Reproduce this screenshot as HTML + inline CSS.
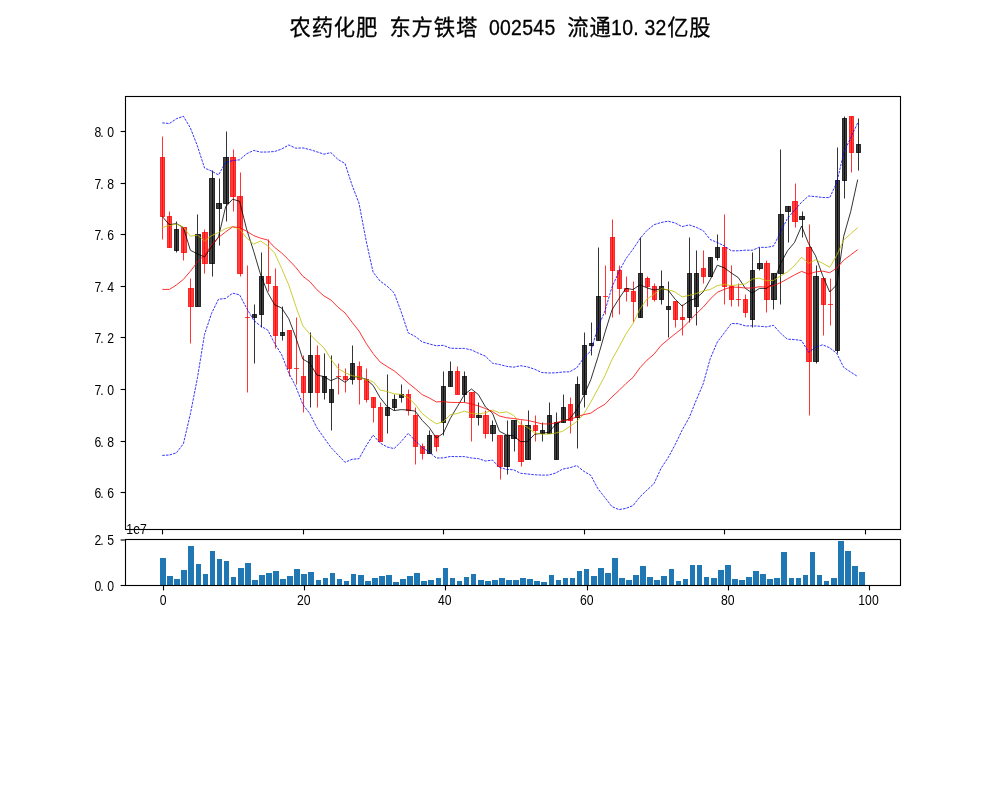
<!DOCTYPE html>
<html lang="zh"><head><meta charset="utf-8"><title>农药化肥 东方铁塔 002545</title>
<style>html,body{margin:0;padding:0;background:#fff}body{width:1000px;height:800px;overflow:hidden}svg{display:block}text{font-family:"Liberation Sans","Noto Sans CJK SC",sans-serif;fill:#000}</style></head><body>
<svg width="1000" height="800" viewBox="0 0 1000 800">
<rect width="1000" height="800" fill="#fff"/>
<g font-size="22.22" stroke="#000" stroke-width="0.3">
<text font-size="21.3" x="289.41 311.63 333.85 356.07" y="35.3">农药化肥</text>
<text font-size="21.3" x="389.40 411.62 433.84 456.06" y="35.3">东方铁塔</text>
<text transform="translate(488.89,35.0) scale(0.90,1)" x="0.00 12.34 24.69 37.03 49.38 61.72" y="0" font-size="21.6">002545</text>
<text font-size="21.3" x="567.16 589.38" y="35.3">流通</text>
<text transform="translate(611.10,35.0) scale(0.90,1)" x="0.00 12.34 24.69 37.03 49.38" y="0" font-size="21.6">10.32</text>
<text font-size="21.3" x="667.15 689.37" y="35.3">亿股</text>
</g>
<g id="main">
<rect x="160.5" y="157.5" width="4" height="59" fill="rgba(255,0,0,0.75)" stroke="rgba(255,0,0,0.75)" stroke-width="1"/>
<rect x="167.5" y="216.5" width="4" height="31" fill="rgba(255,0,0,0.75)" stroke="rgba(255,0,0,0.75)" stroke-width="1"/>
<rect x="174.5" y="229.5" width="4" height="21" fill="rgba(0,0,0,0.75)" stroke="rgba(0,0,0,0.75)" stroke-width="1"/>
<rect x="181.5" y="227.5" width="5" height="25" fill="rgba(255,0,0,0.75)" stroke="rgba(255,0,0,0.75)" stroke-width="1"/>
<rect x="188.5" y="288.5" width="5" height="18" fill="rgba(255,0,0,0.75)" stroke="rgba(255,0,0,0.75)" stroke-width="1"/>
<rect x="195.5" y="234.5" width="5" height="72" fill="rgba(0,0,0,0.75)" stroke="rgba(0,0,0,0.75)" stroke-width="1"/>
<rect x="202.5" y="232.5" width="5" height="31" fill="rgba(255,0,0,0.75)" stroke="rgba(255,0,0,0.75)" stroke-width="1"/>
<rect x="209.5" y="178.5" width="5" height="85" fill="rgba(0,0,0,0.75)" stroke="rgba(0,0,0,0.75)" stroke-width="1"/>
<rect x="216.5" y="203.5" width="5" height="5" fill="rgba(0,0,0,0.75)" stroke="rgba(0,0,0,0.75)" stroke-width="1"/>
<rect x="223.5" y="157.5" width="5" height="46" fill="rgba(0,0,0,0.75)" stroke="rgba(0,0,0,0.75)" stroke-width="1"/>
<rect x="230.5" y="157.5" width="5" height="39" fill="rgba(255,0,0,0.75)" stroke="rgba(255,0,0,0.75)" stroke-width="1"/>
<rect x="237.5" y="196.5" width="5" height="77" fill="rgba(255,0,0,0.75)" stroke="rgba(255,0,0,0.75)" stroke-width="1"/>
<line x1="245.5" x2="249.5" y1="317.5" y2="317.5" stroke="rgba(255,0,0,0.75)" stroke-width="1" stroke-linecap="square"/>
<rect x="252.5" y="314.5" width="4" height="3" fill="rgba(0,0,0,0.75)" stroke="rgba(0,0,0,0.75)" stroke-width="1"/>
<rect x="259.5" y="276.5" width="4" height="38" fill="rgba(0,0,0,0.75)" stroke="rgba(0,0,0,0.75)" stroke-width="1"/>
<rect x="266.5" y="276.5" width="4" height="7" fill="rgba(255,0,0,0.75)" stroke="rgba(255,0,0,0.75)" stroke-width="1"/>
<rect x="273.5" y="286.5" width="4" height="49" fill="rgba(255,0,0,0.75)" stroke="rgba(255,0,0,0.75)" stroke-width="1"/>
<rect x="280.5" y="332.5" width="4" height="3" fill="rgba(0,0,0,0.75)" stroke="rgba(0,0,0,0.75)" stroke-width="1"/>
<rect x="287.5" y="330.5" width="4" height="38" fill="rgba(255,0,0,0.75)" stroke="rgba(255,0,0,0.75)" stroke-width="1"/>
<line x1="294.5" x2="298.5" y1="368.5" y2="368.5" stroke="rgba(255,0,0,0.75)" stroke-width="1" stroke-linecap="square"/>
<rect x="301.5" y="376.5" width="4" height="16" fill="rgba(255,0,0,0.75)" stroke="rgba(255,0,0,0.75)" stroke-width="1"/>
<rect x="308.5" y="355.5" width="4" height="37" fill="rgba(0,0,0,0.75)" stroke="rgba(0,0,0,0.75)" stroke-width="1"/>
<rect x="315.5" y="355.5" width="4" height="37" fill="rgba(255,0,0,0.75)" stroke="rgba(255,0,0,0.75)" stroke-width="1"/>
<rect x="322.5" y="376.5" width="4" height="16" fill="rgba(0,0,0,0.75)" stroke="rgba(0,0,0,0.75)" stroke-width="1"/>
<rect x="329.5" y="389.5" width="4" height="13" fill="rgba(0,0,0,0.75)" stroke="rgba(0,0,0,0.75)" stroke-width="1"/>
<line x1="336.5" x2="340.5" y1="376.5" y2="376.5" stroke="rgba(255,0,0,0.75)" stroke-width="1" stroke-linecap="square"/>
<rect x="343.5" y="376.5" width="4" height="3" fill="rgba(255,0,0,0.75)" stroke="rgba(255,0,0,0.75)" stroke-width="1"/>
<rect x="350.5" y="363.5" width="4" height="16" fill="rgba(0,0,0,0.75)" stroke="rgba(0,0,0,0.75)" stroke-width="1"/>
<rect x="357.5" y="366.5" width="4" height="13" fill="rgba(255,0,0,0.75)" stroke="rgba(255,0,0,0.75)" stroke-width="1"/>
<rect x="364.5" y="379.5" width="4" height="20" fill="rgba(255,0,0,0.75)" stroke="rgba(255,0,0,0.75)" stroke-width="1"/>
<rect x="371.5" y="397.5" width="4" height="10" fill="rgba(255,0,0,0.75)" stroke="rgba(255,0,0,0.75)" stroke-width="1"/>
<rect x="378.5" y="407.5" width="4" height="34" fill="rgba(255,0,0,0.75)" stroke="rgba(255,0,0,0.75)" stroke-width="1"/>
<rect x="385.5" y="407.5" width="4" height="8" fill="rgba(0,0,0,0.75)" stroke="rgba(0,0,0,0.75)" stroke-width="1"/>
<rect x="392.5" y="399.5" width="4" height="8" fill="rgba(0,0,0,0.75)" stroke="rgba(0,0,0,0.75)" stroke-width="1"/>
<rect x="399.5" y="394.5" width="4" height="3" fill="rgba(0,0,0,0.75)" stroke="rgba(0,0,0,0.75)" stroke-width="1"/>
<rect x="406.5" y="394.5" width="4" height="16" fill="rgba(255,0,0,0.75)" stroke="rgba(255,0,0,0.75)" stroke-width="1"/>
<rect x="413.5" y="415.5" width="4" height="31" fill="rgba(255,0,0,0.75)" stroke="rgba(255,0,0,0.75)" stroke-width="1"/>
<rect x="420.5" y="446.5" width="4" height="7" fill="rgba(255,0,0,0.75)" stroke="rgba(255,0,0,0.75)" stroke-width="1"/>
<rect x="427.5" y="435.5" width="4" height="18" fill="rgba(0,0,0,0.75)" stroke="rgba(0,0,0,0.75)" stroke-width="1"/>
<rect x="434.5" y="435.5" width="4" height="11" fill="rgba(255,0,0,0.75)" stroke="rgba(255,0,0,0.75)" stroke-width="1"/>
<rect x="441.5" y="386.5" width="4" height="36" fill="rgba(0,0,0,0.75)" stroke="rgba(0,0,0,0.75)" stroke-width="1"/>
<rect x="448.5" y="371.5" width="4" height="15" fill="rgba(0,0,0,0.75)" stroke="rgba(0,0,0,0.75)" stroke-width="1"/>
<rect x="455.5" y="371.5" width="4" height="23" fill="rgba(255,0,0,0.75)" stroke="rgba(255,0,0,0.75)" stroke-width="1"/>
<rect x="462.5" y="376.5" width="4" height="18" fill="rgba(0,0,0,0.75)" stroke="rgba(0,0,0,0.75)" stroke-width="1"/>
<rect x="469.5" y="392.5" width="5" height="25" fill="rgba(255,0,0,0.75)" stroke="rgba(255,0,0,0.75)" stroke-width="1"/>
<rect x="476.5" y="415.5" width="5" height="2" fill="rgba(0,0,0,0.75)" stroke="rgba(0,0,0,0.75)" stroke-width="1"/>
<rect x="483.5" y="415.5" width="5" height="18" fill="rgba(255,0,0,0.75)" stroke="rgba(255,0,0,0.75)" stroke-width="1"/>
<rect x="490.5" y="425.5" width="5" height="8" fill="rgba(0,0,0,0.75)" stroke="rgba(0,0,0,0.75)" stroke-width="1"/>
<rect x="497.5" y="435.5" width="5" height="31" fill="rgba(255,0,0,0.75)" stroke="rgba(255,0,0,0.75)" stroke-width="1"/>
<rect x="504.5" y="435.5" width="5" height="31" fill="rgba(0,0,0,0.75)" stroke="rgba(0,0,0,0.75)" stroke-width="1"/>
<rect x="511.5" y="420.5" width="5" height="18" fill="rgba(0,0,0,0.75)" stroke="rgba(0,0,0,0.75)" stroke-width="1"/>
<rect x="518.5" y="425.5" width="5" height="36" fill="rgba(255,0,0,0.75)" stroke="rgba(255,0,0,0.75)" stroke-width="1"/>
<rect x="525.5" y="425.5" width="5" height="34" fill="rgba(0,0,0,0.75)" stroke="rgba(0,0,0,0.75)" stroke-width="1"/>
<rect x="533.5" y="425.5" width="4" height="5" fill="rgba(255,0,0,0.75)" stroke="rgba(255,0,0,0.75)" stroke-width="1"/>
<rect x="540.5" y="430.5" width="4" height="3" fill="rgba(0,0,0,0.75)" stroke="rgba(0,0,0,0.75)" stroke-width="1"/>
<rect x="547.5" y="415.5" width="4" height="18" fill="rgba(0,0,0,0.75)" stroke="rgba(0,0,0,0.75)" stroke-width="1"/>
<rect x="554.5" y="422.5" width="4" height="37" fill="rgba(0,0,0,0.75)" stroke="rgba(0,0,0,0.75)" stroke-width="1"/>
<rect x="561.5" y="407.5" width="4" height="15" fill="rgba(0,0,0,0.75)" stroke="rgba(0,0,0,0.75)" stroke-width="1"/>
<rect x="568.5" y="404.5" width="4" height="16" fill="rgba(255,0,0,0.75)" stroke="rgba(255,0,0,0.75)" stroke-width="1"/>
<rect x="575.5" y="384.5" width="4" height="33" fill="rgba(0,0,0,0.75)" stroke="rgba(0,0,0,0.75)" stroke-width="1"/>
<rect x="582.5" y="345.5" width="4" height="49" fill="rgba(0,0,0,0.75)" stroke="rgba(0,0,0,0.75)" stroke-width="1"/>
<rect x="589.5" y="343.5" width="4" height="2" fill="rgba(0,0,0,0.75)" stroke="rgba(0,0,0,0.75)" stroke-width="1"/>
<rect x="596.5" y="296.5" width="4" height="44" fill="rgba(0,0,0,0.75)" stroke="rgba(0,0,0,0.75)" stroke-width="1"/>
<line x1="603.5" x2="607.5" y1="296.5" y2="296.5" stroke="rgba(255,0,0,0.75)" stroke-width="1" stroke-linecap="square"/>
<rect x="610.5" y="237.5" width="4" height="33" fill="rgba(255,0,0,0.75)" stroke="rgba(255,0,0,0.75)" stroke-width="1"/>
<rect x="617.5" y="270.5" width="4" height="18" fill="rgba(255,0,0,0.75)" stroke="rgba(255,0,0,0.75)" stroke-width="1"/>
<rect x="624.5" y="288.5" width="4" height="3" fill="rgba(255,0,0,0.75)" stroke="rgba(255,0,0,0.75)" stroke-width="1"/>
<rect x="631.5" y="291.5" width="4" height="10" fill="rgba(255,0,0,0.75)" stroke="rgba(255,0,0,0.75)" stroke-width="1"/>
<rect x="638.5" y="273.5" width="4" height="44" fill="rgba(0,0,0,0.75)" stroke="rgba(0,0,0,0.75)" stroke-width="1"/>
<rect x="645.5" y="278.5" width="4" height="8" fill="rgba(255,0,0,0.75)" stroke="rgba(255,0,0,0.75)" stroke-width="1"/>
<rect x="652.5" y="286.5" width="4" height="13" fill="rgba(255,0,0,0.75)" stroke="rgba(255,0,0,0.75)" stroke-width="1"/>
<rect x="659.5" y="286.5" width="4" height="13" fill="rgba(0,0,0,0.75)" stroke="rgba(0,0,0,0.75)" stroke-width="1"/>
<rect x="666.5" y="306.5" width="4" height="3" fill="rgba(0,0,0,0.75)" stroke="rgba(0,0,0,0.75)" stroke-width="1"/>
<rect x="673.5" y="301.5" width="4" height="18" fill="rgba(255,0,0,0.75)" stroke="rgba(255,0,0,0.75)" stroke-width="1"/>
<rect x="680.5" y="317.5" width="4" height="2" fill="rgba(255,0,0,0.75)" stroke="rgba(255,0,0,0.75)" stroke-width="1"/>
<rect x="687.5" y="273.5" width="4" height="44" fill="rgba(0,0,0,0.75)" stroke="rgba(0,0,0,0.75)" stroke-width="1"/>
<rect x="694.5" y="273.5" width="4" height="33" fill="rgba(0,0,0,0.75)" stroke="rgba(0,0,0,0.75)" stroke-width="1"/>
<rect x="701.5" y="268.5" width="4" height="8" fill="rgba(255,0,0,0.75)" stroke="rgba(255,0,0,0.75)" stroke-width="1"/>
<rect x="708.5" y="257.5" width="4" height="19" fill="rgba(0,0,0,0.75)" stroke="rgba(0,0,0,0.75)" stroke-width="1"/>
<rect x="715.5" y="247.5" width="4" height="10" fill="rgba(0,0,0,0.75)" stroke="rgba(0,0,0,0.75)" stroke-width="1"/>
<rect x="722.5" y="247.5" width="4" height="39" fill="rgba(255,0,0,0.75)" stroke="rgba(255,0,0,0.75)" stroke-width="1"/>
<rect x="729.5" y="286.5" width="4" height="13" fill="rgba(255,0,0,0.75)" stroke="rgba(255,0,0,0.75)" stroke-width="1"/>
<line x1="736.5" x2="740.5" y1="299.5" y2="299.5" stroke="rgba(255,0,0,0.75)" stroke-width="1" stroke-linecap="square"/>
<rect x="743.5" y="299.5" width="4" height="13" fill="rgba(255,0,0,0.75)" stroke="rgba(255,0,0,0.75)" stroke-width="1"/>
<rect x="750.5" y="270.5" width="4" height="49" fill="rgba(0,0,0,0.75)" stroke="rgba(0,0,0,0.75)" stroke-width="1"/>
<rect x="757.5" y="263.5" width="5" height="5" fill="rgba(0,0,0,0.75)" stroke="rgba(0,0,0,0.75)" stroke-width="1"/>
<rect x="764.5" y="263.5" width="5" height="36" fill="rgba(255,0,0,0.75)" stroke="rgba(255,0,0,0.75)" stroke-width="1"/>
<rect x="771.5" y="273.5" width="5" height="26" fill="rgba(0,0,0,0.75)" stroke="rgba(0,0,0,0.75)" stroke-width="1"/>
<rect x="778.5" y="214.5" width="5" height="59" fill="rgba(0,0,0,0.75)" stroke="rgba(0,0,0,0.75)" stroke-width="1"/>
<rect x="785.5" y="206.5" width="5" height="5" fill="rgba(0,0,0,0.75)" stroke="rgba(0,0,0,0.75)" stroke-width="1"/>
<rect x="792.5" y="201.5" width="5" height="20" fill="rgba(255,0,0,0.75)" stroke="rgba(255,0,0,0.75)" stroke-width="1"/>
<rect x="799.5" y="216.5" width="5" height="3" fill="rgba(0,0,0,0.75)" stroke="rgba(0,0,0,0.75)" stroke-width="1"/>
<rect x="806.5" y="247.5" width="5" height="114" fill="rgba(255,0,0,0.75)" stroke="rgba(255,0,0,0.75)" stroke-width="1"/>
<rect x="813.5" y="276.5" width="5" height="85" fill="rgba(0,0,0,0.75)" stroke="rgba(0,0,0,0.75)" stroke-width="1"/>
<rect x="821.5" y="278.5" width="4" height="26" fill="rgba(255,0,0,0.75)" stroke="rgba(255,0,0,0.75)" stroke-width="1"/>
<line x1="828.5" x2="832.5" y1="304.5" y2="304.5" stroke="rgba(255,0,0,0.75)" stroke-width="1" stroke-linecap="square"/>
<rect x="835.5" y="180.5" width="4" height="170" fill="rgba(0,0,0,0.75)" stroke="rgba(0,0,0,0.75)" stroke-width="1"/>
<rect x="842.5" y="118.5" width="4" height="62" fill="rgba(0,0,0,0.75)" stroke="rgba(0,0,0,0.75)" stroke-width="1"/>
<rect x="849.5" y="116.5" width="4" height="36" fill="rgba(255,0,0,0.75)" stroke="rgba(255,0,0,0.75)" stroke-width="1"/>
<rect x="856.5" y="144.5" width="4" height="8" fill="rgba(0,0,0,0.75)" stroke="rgba(0,0,0,0.75)" stroke-width="1"/>
<line x1="162.5" x2="162.5" y1="136.5" y2="239.5" stroke="rgb(255,0,0)" stroke-width="0.80"/>
<line x1="169.5" x2="169.5" y1="211.5" y2="247.5" stroke="rgb(255,0,0)" stroke-width="0.80"/>
<line x1="176.5" x2="176.5" y1="221.5" y2="252.5" stroke="rgb(0,0,0)" stroke-width="0.80"/>
<line x1="183.5" x2="183.5" y1="227.5" y2="260.5" stroke="rgb(255,0,0)" stroke-width="0.80"/>
<line x1="190.5" x2="190.5" y1="278.5" y2="343.5" stroke="rgb(255,0,0)" stroke-width="0.80"/>
<line x1="197.5" x2="197.5" y1="214.5" y2="306.5" stroke="rgb(0,0,0)" stroke-width="0.80"/>
<line x1="204.5" x2="204.5" y1="229.5" y2="273.5" stroke="rgb(255,0,0)" stroke-width="0.80"/>
<line x1="212.5" x2="212.5" y1="170.5" y2="276.5" stroke="rgb(0,0,0)" stroke-width="0.80"/>
<line x1="219.5" x2="219.5" y1="178.5" y2="245.5" stroke="rgb(0,0,0)" stroke-width="0.80"/>
<line x1="226.5" x2="226.5" y1="131.5" y2="221.5" stroke="rgb(0,0,0)" stroke-width="0.80"/>
<line x1="233.5" x2="233.5" y1="149.5" y2="211.5" stroke="rgb(255,0,0)" stroke-width="0.80"/>
<line x1="240.5" x2="240.5" y1="172.5" y2="276.5" stroke="rgb(255,0,0)" stroke-width="0.80"/>
<line x1="247.5" x2="247.5" y1="265.5" y2="392.5" stroke="rgb(255,0,0)" stroke-width="0.80"/>
<line x1="254.5" x2="254.5" y1="304.5" y2="363.5" stroke="rgb(0,0,0)" stroke-width="0.80"/>
<line x1="261.5" x2="261.5" y1="252.5" y2="327.5" stroke="rgb(0,0,0)" stroke-width="0.80"/>
<line x1="268.5" x2="268.5" y1="239.5" y2="291.5" stroke="rgb(255,0,0)" stroke-width="0.80"/>
<line x1="275.5" x2="275.5" y1="268.5" y2="348.5" stroke="rgb(255,0,0)" stroke-width="0.80"/>
<line x1="282.5" x2="282.5" y1="306.5" y2="340.5" stroke="rgb(0,0,0)" stroke-width="0.80"/>
<line x1="289.5" x2="289.5" y1="330.5" y2="376.5" stroke="rgb(255,0,0)" stroke-width="0.80"/>
<line x1="296.5" x2="296.5" y1="317.5" y2="384.5" stroke="rgb(255,0,0)" stroke-width="0.80"/>
<line x1="303.5" x2="303.5" y1="355.5" y2="412.5" stroke="rgb(255,0,0)" stroke-width="0.80"/>
<line x1="310.5" x2="310.5" y1="332.5" y2="407.5" stroke="rgb(0,0,0)" stroke-width="0.80"/>
<line x1="317.5" x2="317.5" y1="345.5" y2="407.5" stroke="rgb(255,0,0)" stroke-width="0.80"/>
<line x1="324.5" x2="324.5" y1="353.5" y2="399.5" stroke="rgb(0,0,0)" stroke-width="0.80"/>
<line x1="331.5" x2="331.5" y1="355.5" y2="430.5" stroke="rgb(0,0,0)" stroke-width="0.80"/>
<line x1="338.5" x2="338.5" y1="363.5" y2="394.5" stroke="rgb(255,0,0)" stroke-width="0.80"/>
<line x1="345.5" x2="345.5" y1="368.5" y2="392.5" stroke="rgb(255,0,0)" stroke-width="0.80"/>
<line x1="352.5" x2="352.5" y1="345.5" y2="384.5" stroke="rgb(0,0,0)" stroke-width="0.80"/>
<line x1="359.5" x2="359.5" y1="361.5" y2="404.5" stroke="rgb(255,0,0)" stroke-width="0.80"/>
<line x1="366.5" x2="366.5" y1="368.5" y2="402.5" stroke="rgb(255,0,0)" stroke-width="0.80"/>
<line x1="373.5" x2="373.5" y1="397.5" y2="422.5" stroke="rgb(255,0,0)" stroke-width="0.80"/>
<line x1="380.5" x2="380.5" y1="402.5" y2="441.5" stroke="rgb(255,0,0)" stroke-width="0.80"/>
<line x1="387.5" x2="387.5" y1="374.5" y2="433.5" stroke="rgb(0,0,0)" stroke-width="0.80"/>
<line x1="394.5" x2="394.5" y1="394.5" y2="410.5" stroke="rgb(0,0,0)" stroke-width="0.80"/>
<line x1="401.5" x2="401.5" y1="384.5" y2="402.5" stroke="rgb(0,0,0)" stroke-width="0.80"/>
<line x1="408.5" x2="408.5" y1="389.5" y2="415.5" stroke="rgb(255,0,0)" stroke-width="0.80"/>
<line x1="415.5" x2="415.5" y1="407.5" y2="464.5" stroke="rgb(255,0,0)" stroke-width="0.80"/>
<line x1="422.5" x2="422.5" y1="443.5" y2="459.5" stroke="rgb(255,0,0)" stroke-width="0.80"/>
<line x1="429.5" x2="429.5" y1="430.5" y2="453.5" stroke="rgb(0,0,0)" stroke-width="0.80"/>
<line x1="436.5" x2="436.5" y1="435.5" y2="451.5" stroke="rgb(255,0,0)" stroke-width="0.80"/>
<line x1="443.5" x2="443.5" y1="371.5" y2="435.5" stroke="rgb(0,0,0)" stroke-width="0.80"/>
<line x1="450.5" x2="450.5" y1="361.5" y2="386.5" stroke="rgb(0,0,0)" stroke-width="0.80"/>
<line x1="457.5" x2="457.5" y1="366.5" y2="394.5" stroke="rgb(255,0,0)" stroke-width="0.80"/>
<line x1="464.5" x2="464.5" y1="371.5" y2="402.5" stroke="rgb(0,0,0)" stroke-width="0.80"/>
<line x1="471.5" x2="471.5" y1="392.5" y2="441.5" stroke="rgb(255,0,0)" stroke-width="0.80"/>
<line x1="478.5" x2="478.5" y1="402.5" y2="425.5" stroke="rgb(0,0,0)" stroke-width="0.80"/>
<line x1="485.5" x2="485.5" y1="410.5" y2="438.5" stroke="rgb(255,0,0)" stroke-width="0.80"/>
<line x1="492.5" x2="492.5" y1="420.5" y2="441.5" stroke="rgb(0,0,0)" stroke-width="0.80"/>
<line x1="500.5" x2="500.5" y1="435.5" y2="479.5" stroke="rgb(255,0,0)" stroke-width="0.80"/>
<line x1="507.5" x2="507.5" y1="420.5" y2="474.5" stroke="rgb(0,0,0)" stroke-width="0.80"/>
<line x1="514.5" x2="514.5" y1="420.5" y2="451.5" stroke="rgb(0,0,0)" stroke-width="0.80"/>
<line x1="521.5" x2="521.5" y1="420.5" y2="466.5" stroke="rgb(255,0,0)" stroke-width="0.80"/>
<line x1="528.5" x2="528.5" y1="410.5" y2="459.5" stroke="rgb(0,0,0)" stroke-width="0.80"/>
<line x1="535.5" x2="535.5" y1="415.5" y2="441.5" stroke="rgb(255,0,0)" stroke-width="0.80"/>
<line x1="542.5" x2="542.5" y1="422.5" y2="441.5" stroke="rgb(0,0,0)" stroke-width="0.80"/>
<line x1="549.5" x2="549.5" y1="402.5" y2="433.5" stroke="rgb(0,0,0)" stroke-width="0.80"/>
<line x1="556.5" x2="556.5" y1="412.5" y2="459.5" stroke="rgb(0,0,0)" stroke-width="0.80"/>
<line x1="563.5" x2="563.5" y1="394.5" y2="422.5" stroke="rgb(0,0,0)" stroke-width="0.80"/>
<line x1="570.5" x2="570.5" y1="397.5" y2="433.5" stroke="rgb(255,0,0)" stroke-width="0.80"/>
<line x1="577.5" x2="577.5" y1="376.5" y2="448.5" stroke="rgb(0,0,0)" stroke-width="0.80"/>
<line x1="584.5" x2="584.5" y1="332.5" y2="407.5" stroke="rgb(0,0,0)" stroke-width="0.80"/>
<line x1="591.5" x2="591.5" y1="322.5" y2="355.5" stroke="rgb(0,0,0)" stroke-width="0.80"/>
<line x1="598.5" x2="598.5" y1="247.5" y2="340.5" stroke="rgb(0,0,0)" stroke-width="0.80"/>
<line x1="605.5" x2="605.5" y1="265.5" y2="314.5" stroke="rgb(255,0,0)" stroke-width="0.80"/>
<line x1="612.5" x2="612.5" y1="219.5" y2="317.5" stroke="rgb(255,0,0)" stroke-width="0.80"/>
<line x1="619.5" x2="619.5" y1="265.5" y2="314.5" stroke="rgb(255,0,0)" stroke-width="0.80"/>
<line x1="626.5" x2="626.5" y1="276.5" y2="301.5" stroke="rgb(255,0,0)" stroke-width="0.80"/>
<line x1="633.5" x2="633.5" y1="281.5" y2="322.5" stroke="rgb(255,0,0)" stroke-width="0.80"/>
<line x1="640.5" x2="640.5" y1="237.5" y2="317.5" stroke="rgb(0,0,0)" stroke-width="0.80"/>
<line x1="647.5" x2="647.5" y1="276.5" y2="306.5" stroke="rgb(255,0,0)" stroke-width="0.80"/>
<line x1="654.5" x2="654.5" y1="283.5" y2="301.5" stroke="rgb(255,0,0)" stroke-width="0.80"/>
<line x1="661.5" x2="661.5" y1="270.5" y2="304.5" stroke="rgb(0,0,0)" stroke-width="0.80"/>
<line x1="668.5" x2="668.5" y1="281.5" y2="337.5" stroke="rgb(0,0,0)" stroke-width="0.80"/>
<line x1="675.5" x2="675.5" y1="301.5" y2="327.5" stroke="rgb(255,0,0)" stroke-width="0.80"/>
<line x1="682.5" x2="682.5" y1="304.5" y2="335.5" stroke="rgb(255,0,0)" stroke-width="0.80"/>
<line x1="689.5" x2="689.5" y1="237.5" y2="322.5" stroke="rgb(0,0,0)" stroke-width="0.80"/>
<line x1="696.5" x2="696.5" y1="250.5" y2="325.5" stroke="rgb(0,0,0)" stroke-width="0.80"/>
<line x1="703.5" x2="703.5" y1="250.5" y2="283.5" stroke="rgb(255,0,0)" stroke-width="0.80"/>
<line x1="710.5" x2="710.5" y1="257.5" y2="276.5" stroke="rgb(0,0,0)" stroke-width="0.80"/>
<line x1="717.5" x2="717.5" y1="234.5" y2="260.5" stroke="rgb(0,0,0)" stroke-width="0.80"/>
<line x1="724.5" x2="724.5" y1="214.5" y2="304.5" stroke="rgb(255,0,0)" stroke-width="0.80"/>
<line x1="731.5" x2="731.5" y1="265.5" y2="306.5" stroke="rgb(255,0,0)" stroke-width="0.80"/>
<line x1="738.5" x2="738.5" y1="283.5" y2="306.5" stroke="rgb(255,0,0)" stroke-width="0.80"/>
<line x1="745.5" x2="745.5" y1="294.5" y2="317.5" stroke="rgb(255,0,0)" stroke-width="0.80"/>
<line x1="752.5" x2="752.5" y1="252.5" y2="327.5" stroke="rgb(0,0,0)" stroke-width="0.80"/>
<line x1="759.5" x2="759.5" y1="247.5" y2="270.5" stroke="rgb(0,0,0)" stroke-width="0.80"/>
<line x1="766.5" x2="766.5" y1="260.5" y2="312.5" stroke="rgb(255,0,0)" stroke-width="0.80"/>
<line x1="773.5" x2="773.5" y1="273.5" y2="309.5" stroke="rgb(0,0,0)" stroke-width="0.80"/>
<line x1="780.5" x2="780.5" y1="149.5" y2="304.5" stroke="rgb(0,0,0)" stroke-width="0.80"/>
<line x1="788.5" x2="788.5" y1="206.5" y2="242.5" stroke="rgb(0,0,0)" stroke-width="0.80"/>
<line x1="795.5" x2="795.5" y1="183.5" y2="227.5" stroke="rgb(255,0,0)" stroke-width="0.80"/>
<line x1="802.5" x2="802.5" y1="211.5" y2="237.5" stroke="rgb(0,0,0)" stroke-width="0.80"/>
<line x1="809.5" x2="809.5" y1="224.5" y2="415.5" stroke="rgb(255,0,0)" stroke-width="0.80"/>
<line x1="816.5" x2="816.5" y1="265.5" y2="363.5" stroke="rgb(0,0,0)" stroke-width="0.80"/>
<line x1="823.5" x2="823.5" y1="278.5" y2="335.5" stroke="rgb(255,0,0)" stroke-width="0.80"/>
<line x1="830.5" x2="830.5" y1="278.5" y2="325.5" stroke="rgb(255,0,0)" stroke-width="0.80"/>
<line x1="837.5" x2="837.5" y1="147.5" y2="353.5" stroke="rgb(0,0,0)" stroke-width="0.80"/>
<line x1="844.5" x2="844.5" y1="116.5" y2="198.5" stroke="rgb(0,0,0)" stroke-width="0.80"/>
<line x1="851.5" x2="851.5" y1="116.5" y2="172.5" stroke="rgb(255,0,0)" stroke-width="0.80"/>
<line x1="858.5" x2="858.5" y1="118.5" y2="170.5" stroke="rgb(0,0,0)" stroke-width="0.80"/>
<g fill="none" stroke-width="0.80" stroke-linejoin="round">
<path d="M162.3 216.5 L169.4 224.8 L176.4 223.5 L183.4 227.5 L190.4 250.3 L197.5 253.9 L204.5 257.0 L211.5 246.7 L218.5 236.9 L225.6 206.9 L232.6 199.2 L239.6 201.3 L246.6 229.1 L253.7 251.3 L260.7 275.0 L267.7 292.5 L274.7 304.9 L281.7 308.0 L288.8 318.8 L295.8 337.4 L302.8 359.1 L309.8 363.2 L316.9 375.0 L323.9 376.6 L330.9 380.7 L337.9 377.6 L345.0 382.3 L352.0 376.6 L359.0 377.1 L366.0 379.2 L373.1 385.4 L380.1 397.7 L387.1 406.5 L394.1 410.6 L401.2 409.6 L408.2 410.1 L415.2 411.1 L422.2 420.4 L429.3 427.6 L436.3 438.0 L443.3 433.3 L450.3 418.4 L457.4 406.5 L464.4 394.6 L471.4 389.0 L478.4 394.6 L485.5 407.0 L492.5 413.2 L499.5 431.3 L506.5 434.9 L513.6 435.9 L520.6 441.6 L527.6 441.6 L534.6 434.3 L541.7 433.3 L548.7 432.3 L555.7 424.5 L562.7 420.9 L569.7 418.9 L576.8 409.6 L583.8 395.7 L590.8 379.7 L597.8 357.5 L604.9 332.8 L611.9 310.1 L618.9 298.7 L625.9 288.4 L633.0 289.5 L640.0 284.8 L647.0 287.9 L654.0 290.0 L661.1 288.9 L668.1 290.0 L675.1 299.2 L682.1 306.0 L689.2 300.8 L696.2 298.2 L703.2 292.0 L710.2 279.7 L717.3 265.2 L724.3 267.8 L731.3 273.0 L738.3 277.6 L745.4 288.4 L752.4 293.1 L759.4 288.4 L766.4 288.4 L773.5 283.3 L780.5 263.7 L787.5 250.8 L794.5 242.5 L801.6 226.0 L808.6 243.6 L815.6 255.9 L822.6 275.5 L829.7 292.0 L836.7 284.8 L843.7 236.3 L850.7 211.6 L857.7 179.6" stroke="#000"/>
<path d="M162.3 227.5 L169.4 225.6 L176.4 224.0 L183.4 227.2 L190.4 236.2 L197.5 235.2 L204.5 241.0 L211.5 235.6 L218.5 232.5 L225.6 228.6 L232.6 226.5 L239.6 229.1 L246.6 237.9 L253.7 244.1 L260.7 241.0 L267.7 245.9 L274.7 253.1 L281.7 268.6 L288.8 285.1 L295.8 306.2 L302.8 325.8 L309.8 334.1 L316.9 341.5 L323.9 347.7 L330.9 359.1 L337.9 368.3 L345.0 372.7 L352.0 375.8 L359.0 376.9 L366.0 379.9 L373.1 381.5 L380.1 390.0 L387.1 391.5 L394.1 393.9 L401.2 394.4 L408.2 397.7 L415.2 404.4 L422.2 413.5 L429.3 419.1 L436.3 423.8 L443.3 421.7 L450.3 414.8 L457.4 413.5 L464.4 411.1 L471.4 413.5 L478.4 414.0 L485.5 412.7 L492.5 409.9 L499.5 412.9 L506.5 411.9 L513.6 415.3 L520.6 424.3 L527.6 427.4 L534.6 432.8 L541.7 434.1 L548.7 434.1 L555.7 433.1 L562.7 431.3 L569.7 426.6 L576.8 421.5 L583.8 414.0 L590.8 402.1 L597.8 389.2 L604.9 375.8 L611.9 359.8 L618.9 347.2 L625.9 334.1 L633.0 323.5 L640.0 308.8 L647.0 299.0 L654.0 294.4 L661.1 288.7 L668.1 289.7 L675.1 292.0 L682.1 296.9 L689.2 295.4 L696.2 293.6 L703.2 291.0 L710.2 289.5 L717.3 285.6 L724.3 284.3 L731.3 285.6 L738.3 284.8 L745.4 284.0 L752.4 279.1 L759.4 278.1 L766.4 280.7 L773.5 280.4 L780.5 276.0 L787.5 271.9 L794.5 265.5 L801.6 257.2 L808.6 263.4 L815.6 259.8 L822.6 263.2 L829.7 267.3 L836.7 255.4 L843.7 240.0 L850.7 233.8 L857.7 227.6" stroke="#bfbf00"/>
<path d="M162.3 289.4 L169.4 289.4 L176.4 285.0 L183.4 279.4 L190.4 271.2 L197.5 261.9 L204.5 255.0 L211.5 245.0 L218.5 237.5 L225.6 231.9 L232.6 226.9 L239.6 227.5 L246.6 231.2 L253.7 235.6 L260.7 238.2 L267.7 240.0 L274.7 247.5 L281.7 253.0 L288.8 260.0 L295.8 267.4 L302.8 276.2 L309.8 281.6 L316.9 289.7 L323.9 295.9 L330.9 300.0 L337.9 307.1 L345.0 312.9 L352.0 322.2 L359.0 331.0 L366.0 343.1 L373.1 353.6 L380.1 362.0 L387.1 366.5 L394.1 370.8 L401.2 376.7 L408.2 383.0 L415.2 388.6 L422.2 394.6 L429.3 398.0 L436.3 401.9 L443.3 401.6 L450.3 402.4 L457.4 402.5 L464.4 402.5 L471.4 403.9 L478.4 405.9 L485.5 408.6 L492.5 411.7 L499.5 416.0 L506.5 417.8 L513.6 418.5 L520.6 419.5 L527.6 420.4 L534.6 422.0 L541.7 423.8 L548.7 424.0 L555.7 422.9 L562.7 420.6 L569.7 419.8 L576.8 416.7 L583.8 414.6 L590.8 413.2 L597.8 408.3 L604.9 404.3 L611.9 397.0 L618.9 390.6 L625.9 383.6 L633.0 377.4 L640.0 367.7 L647.0 360.2 L654.0 354.2 L661.1 345.4 L668.1 339.5 L675.1 333.9 L682.1 328.4 L689.2 321.3 L696.2 313.8 L703.2 307.2 L710.2 299.1 L717.3 292.3 L724.3 289.3 L731.3 287.1 L738.3 287.3 L745.4 288.0 L752.4 288.0 L759.4 286.7 L766.4 287.1 L773.5 285.7 L780.5 282.7 L787.5 278.8 L794.5 274.9 L801.6 271.4 L808.6 274.1 L815.6 271.9 L822.6 271.1 L829.7 272.7 L836.7 268.1 L843.7 260.2 L850.7 254.9 L857.7 249.7" stroke="#f00"/>
<path d="M162.3 122.9 L169.4 123.5 L176.4 118.8 L183.4 116.2 L190.4 128.0 L197.5 146.2 L204.5 168.0 L211.5 171.0 L218.5 175.0 L225.6 162.5 L232.6 160.6 L239.6 159.8 L246.6 153.8 L253.7 150.4 L260.7 152.1 L267.7 152.0 L274.7 151.5 L281.7 149.0 L288.8 145.0 L295.8 148.2 L302.8 147.9 L309.8 149.6 L316.9 151.8 L323.9 154.2 L330.9 152.6 L337.9 159.4 L345.0 163.5 L352.0 185.0 L359.0 203.2 L366.0 240.1 L373.1 272.2 L380.1 281.1 L387.1 286.1 L394.1 292.9 L401.2 311.8 L408.2 332.8 L415.2 336.4 L422.2 341.9 L429.3 343.9 L436.3 345.8 L443.3 345.3 L450.3 348.2 L457.4 348.4 L464.4 348.4 L471.4 349.9 L478.4 353.2 L485.5 356.2 L492.5 363.2 L499.5 364.5 L506.5 366.3 L513.6 367.2 L520.6 365.7 L527.6 366.9 L534.6 369.2 L541.7 372.5 L548.7 373.0 L555.7 372.8 L562.7 372.0 L569.7 371.8 L576.8 367.8 L583.8 357.9 L590.8 351.0 L597.8 328.1 L604.9 311.1 L611.9 287.3 L618.9 271.7 L625.9 258.7 L633.0 249.2 L640.0 238.6 L647.0 230.4 L654.0 224.7 L661.1 222.5 L668.1 221.2 L675.1 223.0 L682.1 226.6 L689.2 224.9 L696.2 227.3 L703.2 230.7 L710.2 239.5 L717.3 242.5 L724.3 245.9 L731.3 250.8 L738.3 250.8 L745.4 250.2 L752.4 250.2 L759.4 247.3 L766.4 247.4 L773.5 246.1 L780.5 232.3 L787.5 218.3 L794.5 210.3 L801.6 202.2 L808.6 196.0 L815.6 196.6 L822.6 197.5 L829.7 197.6 L836.7 182.8 L843.7 153.0 L850.7 137.7 L857.7 123.0" stroke="#00f" stroke-dasharray="2.57 1.11"/>
<path d="M162.3 455.4 L169.4 455.0 L176.4 452.8 L183.4 443.8 L190.4 413.8 L197.5 377.5 L204.5 334.5 L211.5 313.5 L218.5 299.2 L225.6 298.5 L232.6 293.2 L239.6 294.8 L246.6 308.2 L253.7 320.2 L260.7 326.2 L267.7 330.0 L274.7 343.5 L281.7 354.8 L288.8 373.0 L295.8 386.6 L302.8 404.4 L309.8 413.6 L316.9 427.7 L323.9 437.6 L330.9 447.4 L337.9 454.8 L345.0 462.3 L352.0 459.3 L359.0 458.7 L366.0 446.1 L373.1 435.0 L380.1 443.0 L387.1 447.0 L394.1 448.6 L401.2 441.6 L408.2 433.3 L415.2 440.7 L422.2 447.4 L429.3 452.1 L436.3 458.0 L443.3 457.9 L450.3 456.5 L457.4 456.6 L464.4 456.6 L471.4 458.0 L478.4 458.6 L485.5 461.0 L492.5 460.1 L499.5 467.5 L506.5 469.4 L513.6 469.8 L520.6 473.3 L527.6 474.0 L534.6 474.8 L541.7 475.1 L548.7 475.1 L555.7 473.0 L562.7 469.1 L569.7 467.8 L576.8 465.6 L583.8 471.3 L590.8 475.4 L597.8 488.5 L604.9 497.5 L611.9 506.6 L618.9 509.6 L625.9 508.4 L633.0 505.6 L640.0 496.8 L647.0 490.1 L654.0 483.6 L661.1 468.3 L668.1 457.7 L675.1 444.8 L682.1 430.2 L689.2 417.6 L696.2 400.3 L703.2 383.8 L710.2 358.7 L717.3 342.0 L724.3 332.8 L731.3 323.5 L738.3 323.7 L745.4 325.9 L752.4 325.9 L759.4 326.2 L766.4 326.9 L773.5 325.3 L780.5 333.2 L787.5 339.2 L794.5 339.5 L801.6 340.6 L808.6 352.3 L815.6 347.3 L822.6 344.8 L829.7 347.8 L836.7 353.3 L843.7 367.4 L850.7 372.1 L857.7 376.5" stroke="#00f" stroke-dasharray="2.57 1.11"/>
</g>
<rect x="125.5" y="96.5" width="775.0" height="433.0" fill="none" stroke="#000" stroke-width="1.11"/>
<g stroke="#000" stroke-width="1.11">
<line x1="162.5" x2="162.5" y1="529.5" y2="534.4"/>
<line x1="303.5" x2="303.5" y1="529.5" y2="534.4"/>
<line x1="443.5" x2="443.5" y1="529.5" y2="534.4"/>
<line x1="584.5" x2="584.5" y1="529.5" y2="534.4"/>
<line x1="724.5" x2="724.5" y1="529.5" y2="534.4"/>
<line x1="865.5" x2="865.5" y1="529.5" y2="534.4"/>
<line x1="120.6" x2="125.5" y1="131.5" y2="131.5"/>
<line x1="120.6" x2="125.5" y1="183.5" y2="183.5"/>
<line x1="120.6" x2="125.5" y1="234.5" y2="234.5"/>
<line x1="120.6" x2="125.5" y1="286.5" y2="286.5"/>
<line x1="120.6" x2="125.5" y1="337.5" y2="337.5"/>
<line x1="120.6" x2="125.5" y1="389.5" y2="389.5"/>
<line x1="120.6" x2="125.5" y1="441.5" y2="441.5"/>
<line x1="120.6" x2="125.5" y1="492.5" y2="492.5"/>
</g>
<text transform="translate(94.30,136.5) scale(0.88,1)" x="0.28 6.88 14.83" y="0" font-size="13.9">8.0</text>
<text transform="translate(94.30,188.5) scale(0.88,1)" x="0.28 6.88 14.83" y="0" font-size="13.9">7.8</text>
<text transform="translate(94.30,239.5) scale(0.88,1)" x="0.28 6.88 14.83" y="0" font-size="13.9">7.6</text>
<text transform="translate(94.30,291.5) scale(0.88,1)" x="0.28 6.88 14.83" y="0" font-size="13.9">7.4</text>
<text transform="translate(94.30,342.5) scale(0.88,1)" x="0.28 6.88 14.83" y="0" font-size="13.9">7.2</text>
<text transform="translate(94.30,394.5) scale(0.88,1)" x="0.28 6.88 14.83" y="0" font-size="13.9">7.0</text>
<text transform="translate(94.30,446.5) scale(0.88,1)" x="0.28 6.88 14.83" y="0" font-size="13.9">6.8</text>
<text transform="translate(94.30,497.5) scale(0.88,1)" x="0.28 6.88 14.83" y="0" font-size="13.9">6.6</text>
</g>
<g id="vol">
<g fill="#1f77b4" shape-rendering="crispEdges">
<rect x="160" y="558" width="6" height="27"/>
<rect x="167" y="576" width="6" height="9"/>
<rect x="174" y="579" width="6" height="6"/>
<rect x="181" y="570" width="6" height="15"/>
<rect x="188" y="546" width="6" height="39"/>
<rect x="196" y="564" width="5" height="21"/>
<rect x="203" y="574" width="5" height="11"/>
<rect x="210" y="551" width="5" height="34"/>
<rect x="217" y="559" width="5" height="26"/>
<rect x="224" y="561" width="5" height="24"/>
<rect x="231" y="577" width="5" height="8"/>
<rect x="238" y="568" width="6" height="17"/>
<rect x="245" y="563" width="6" height="22"/>
<rect x="252" y="580" width="6" height="5"/>
<rect x="259" y="575" width="6" height="10"/>
<rect x="266" y="573" width="6" height="12"/>
<rect x="273" y="571" width="6" height="14"/>
<rect x="280" y="579" width="6" height="6"/>
<rect x="287" y="576" width="6" height="9"/>
<rect x="294" y="569" width="6" height="16"/>
<rect x="301" y="574" width="6" height="11"/>
<rect x="308" y="572" width="6" height="13"/>
<rect x="316" y="580" width="5" height="5"/>
<rect x="323" y="578" width="5" height="7"/>
<rect x="330" y="573" width="5" height="12"/>
<rect x="337" y="579" width="5" height="6"/>
<rect x="344" y="581" width="5" height="4"/>
<rect x="351" y="574" width="5" height="11"/>
<rect x="358" y="575" width="6" height="10"/>
<rect x="365" y="581" width="6" height="4"/>
<rect x="372" y="578" width="6" height="7"/>
<rect x="379" y="576" width="6" height="9"/>
<rect x="386" y="575" width="6" height="10"/>
<rect x="393" y="582" width="6" height="3"/>
<rect x="400" y="579" width="6" height="6"/>
<rect x="407" y="576" width="6" height="9"/>
<rect x="414" y="573" width="6" height="12"/>
<rect x="421" y="581" width="6" height="4"/>
<rect x="428" y="580" width="6" height="5"/>
<rect x="436" y="578" width="5" height="7"/>
<rect x="443" y="568" width="5" height="17"/>
<rect x="450" y="578" width="5" height="7"/>
<rect x="457" y="581" width="5" height="4"/>
<rect x="464" y="577" width="5" height="8"/>
<rect x="471" y="574" width="5" height="11"/>
<rect x="478" y="580" width="6" height="5"/>
<rect x="485" y="581" width="6" height="4"/>
<rect x="492" y="580" width="6" height="5"/>
<rect x="499" y="578" width="6" height="7"/>
<rect x="506" y="580" width="6" height="5"/>
<rect x="513" y="580" width="6" height="5"/>
<rect x="520" y="578" width="6" height="7"/>
<rect x="527" y="579" width="6" height="6"/>
<rect x="534" y="581" width="6" height="4"/>
<rect x="541" y="582" width="6" height="3"/>
<rect x="549" y="575" width="5" height="10"/>
<rect x="556" y="580" width="5" height="5"/>
<rect x="563" y="578" width="5" height="7"/>
<rect x="570" y="578" width="5" height="7"/>
<rect x="577" y="571" width="5" height="14"/>
<rect x="584" y="569" width="5" height="16"/>
<rect x="591" y="576" width="6" height="9"/>
<rect x="598" y="568" width="6" height="17"/>
<rect x="605" y="573" width="6" height="12"/>
<rect x="612" y="558" width="6" height="27"/>
<rect x="619" y="578" width="6" height="7"/>
<rect x="626" y="580" width="6" height="5"/>
<rect x="633" y="575" width="6" height="10"/>
<rect x="640" y="566" width="6" height="19"/>
<rect x="647" y="577" width="6" height="8"/>
<rect x="654" y="580" width="6" height="5"/>
<rect x="661" y="576" width="6" height="9"/>
<rect x="669" y="569" width="5" height="16"/>
<rect x="676" y="581" width="5" height="4"/>
<rect x="683" y="579" width="5" height="6"/>
<rect x="690" y="565" width="5" height="20"/>
<rect x="697" y="565" width="5" height="20"/>
<rect x="704" y="577" width="5" height="8"/>
<rect x="711" y="578" width="6" height="7"/>
<rect x="718" y="570" width="6" height="15"/>
<rect x="725" y="565" width="6" height="20"/>
<rect x="732" y="579" width="6" height="6"/>
<rect x="739" y="580" width="6" height="5"/>
<rect x="746" y="577" width="6" height="8"/>
<rect x="753" y="571" width="6" height="14"/>
<rect x="760" y="574" width="6" height="11"/>
<rect x="767" y="579" width="6" height="6"/>
<rect x="774" y="578" width="6" height="7"/>
<rect x="781" y="552" width="6" height="33"/>
<rect x="789" y="578" width="5" height="7"/>
<rect x="796" y="578" width="5" height="7"/>
<rect x="803" y="575" width="5" height="10"/>
<rect x="810" y="552" width="5" height="33"/>
<rect x="817" y="575" width="5" height="10"/>
<rect x="824" y="581" width="5" height="4"/>
<rect x="831" y="578" width="6" height="7"/>
<rect x="838" y="541" width="6" height="44"/>
<rect x="845" y="551" width="6" height="34"/>
<rect x="852" y="566" width="6" height="19"/>
<rect x="859" y="572" width="6" height="13"/>
</g>
<rect x="125.5" y="539.5" width="775.0" height="46.0" fill="none" stroke="#000" stroke-width="1.11"/>
<g stroke="#000" stroke-width="1.11">
<line x1="163.5" x2="163.5" y1="585.5" y2="590.4"/>
<line x1="304.5" x2="304.5" y1="585.5" y2="590.4"/>
<line x1="445.5" x2="445.5" y1="585.5" y2="590.4"/>
<line x1="587.5" x2="587.5" y1="585.5" y2="590.4"/>
<line x1="728.5" x2="728.5" y1="585.5" y2="590.4"/>
<line x1="869.5" x2="869.5" y1="585.5" y2="590.4"/>
<line x1="120.6" x2="125.5" y1="540.0" y2="540.0"/>
<line x1="120.6" x2="125.5" y1="585.5" y2="585.5"/>
</g>
<text transform="translate(94.30,545.0) scale(0.88,1)" x="0.28 6.88 14.83" y="0" font-size="13.9">2.5</text>
<text transform="translate(94.30,590.5) scale(0.88,1)" x="0.28 6.88 14.83" y="0" font-size="13.9">0.0</text>
<text transform="translate(159.45,604.9) scale(0.88,1)" x="0.28" y="0" font-size="13.9">0</text>
<text transform="translate(296.70,604.9) scale(0.88,1)" x="0.28 8.12" y="0" font-size="13.9">20</text>
<text transform="translate(437.70,604.9) scale(0.88,1)" x="0.28 8.12" y="0" font-size="13.9">40</text>
<text transform="translate(579.70,604.9) scale(0.88,1)" x="0.28 8.12" y="0" font-size="13.9">60</text>
<text transform="translate(720.70,604.9) scale(0.88,1)" x="0.28 8.12" y="0" font-size="13.9">80</text>
<text transform="translate(857.95,604.9) scale(0.88,1)" x="0.28 8.12 15.97" y="0" font-size="13.9">100</text>
<text transform="translate(126.00,534.0) scale(0.88,1)" x="0.28 8.12 15.97" y="0" font-size="13.9">1e7</text>
</g>
</svg></body></html>
